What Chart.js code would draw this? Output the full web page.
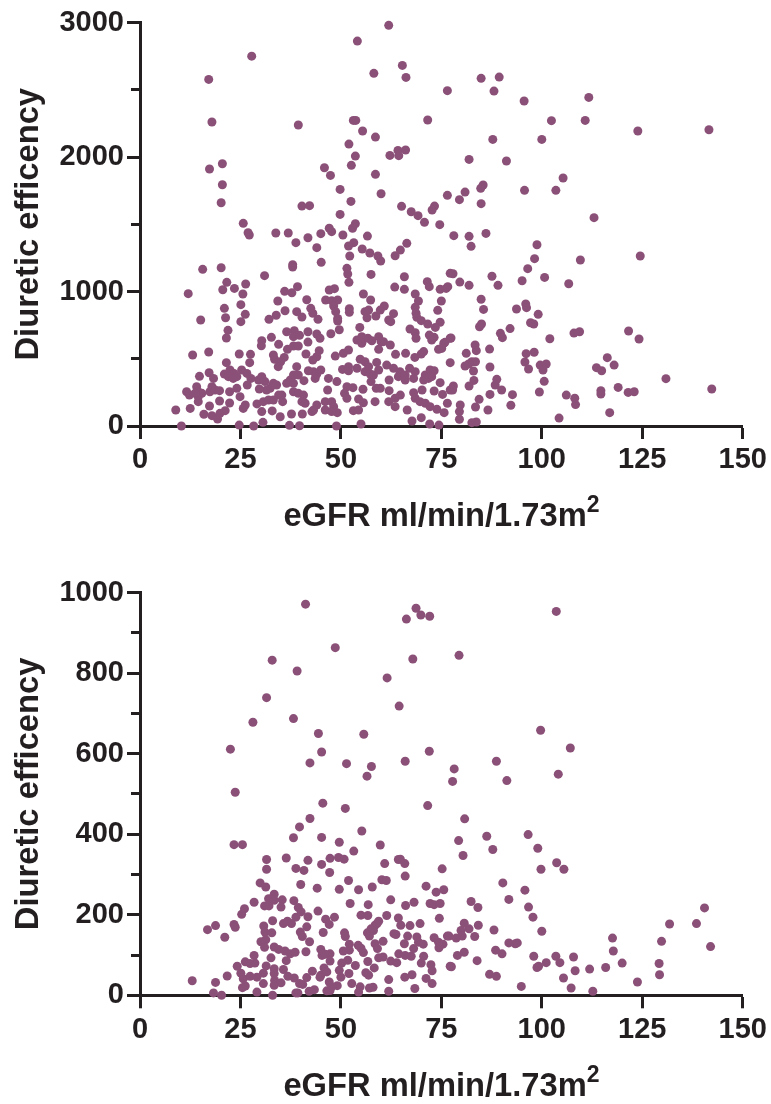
<!DOCTYPE html>
<html><head><meta charset="utf-8">
<script src="https://cdn.jsdelivr.net/npm/chart.js@4"></script>
<style>
html,body{margin:0;padding:0;background:#fff;overflow:hidden}
#wrap{position:relative;width:771px;height:1104px}
canvas{position:absolute;left:0}
#c1{top:0}#c2{top:570px}
.xt{position:absolute;left:140px;width:603px;text-align:center;font:bold 32.7px "Liberation Sans",Arial,sans-serif;color:#231f20;white-space:nowrap;line-height:34px}
.xt sup{font-size:23px;line-height:0;vertical-align:baseline;position:relative;top:-14px}
</style></head><body>
<div id="wrap">
<canvas id="c1" width="771" height="570"></canvas>
<canvas id="c2" width="771" height="534"></canvas>
<div class="xt" style="top:497.5px">eGFR ml/min/1.73m<sup>2</sup></div>
<div class="xt" style="top:1067.5px">eGFR ml/min/1.73m<sup>2</sup></div>
</div>
<script>
const yTitle = 'Diuretic efficency';
const xTicks = [0,25,50,75,100,125,150];
const topPairs = [
[61.9,2979],[54.1,2862],[27.8,2750],[65.3,2681],[58.2,2622],[66.2,2592],[17.1,2577],[76.5,2493],[53.1,2272],[53.7,2272],[71.6,2275],[17.9,2260],[39.4,2238],[55.4,2193],[58.6,2148],[52,2096],[64.2,2049],[66.1,2052],[64.4,2010],[62.2,2012],[53.6,2007],[52.6,1938],[20.5,1950],[17.3,1911],[45.9,1920],[47.4,1863],[58.6,1871],[20.5,1794],[49.8,1759],[60,1727],[76.5,1715],[20.2,1660],[40.3,1635],[42.2,1638],[52.5,1670],[65.1,1633],[73.3,1635],[72.7,1606],[67.5,1593],[69.2,1564],[49.8,1573],[70.8,1514],[74.6,1497],[25.7,1507],[53.6,1504],[52.9,1470],[47.1,1470],
[26.9,1437],[27.2,1420],[33.8,1435],[36.9,1435],[38.8,1363],[41.8,1400],[45,1430],[47.7,1445],[44,1326],[50.5,1420],[56.6,1412],[53.2,1363],[51.9,1338],[55.3,1316],[57.2,1286],[52.2,1264],[59.2,1264],[59.9,1227],[66.4,1358],[64.8,1308],[63.5,1266],[45.1,1217],[38,1199],[38,1182],[51.5,1172],[51.7,1130],[52,1068],[57.5,1127],[15.6,1165],[20.2,1177],[31,1118],[65.8,1110],[77.2,1135],[21.6,1068],[26.3,1056],[20.6,1013],[23.5,1023],[25.6,981],[12,984],[25.1,902],[21,875],[26.2,830],[21.3,805],[25.1,776],[15.1,788],[21.9,711],[21.5,654],[39.2,1036],[36,1001],[37.8,991],[34.3,929],[41.5,939],[36.1,857],[33.9,823],[32.1,793],[39,850],[40.3,810],[42.5,875],[43,838],[44.3,793],[47.1,1011],[48.4,1021],[46.2,937],[47.7,932],[49.2,937],[48.2,892],[48.7,850],[49.2,800],[49.2,781],[52.1,872],[52.1,845],[49.6,716],[47.5,686],[55.6,981],[57.4,937],[56.9,862],[56,850],[56.5,805],[60.8,892],[59.8,862],[58.7,818],[63.1,835],[61.9,788],[62.4,776],[63.4,1033],[65.8,1016],[68.5,981],[69.3,929],[68.5,882],[68.7,838],[68.9,808],[70,783],[71.6,758],[71.5,1073],[72,1036],[74.7,1016],[76.2,1023],[75,929],[74.1,860],[74.7,771],[73.5,733],[67.2,721],[68.5,694],[68.7,652],[72,676],[73.2,659],[72.6,639],[54.7,733],[54,639],[55.2,664],[56.7,652],[57.7,634],[59.4,664],[60,627],[55.2,615],[60.6,627],[62.3,602],[59.4,570],[63.6,533],[66.1,540],[70.6,553],[70,535],[68.4,510],[74.3,570],[75.6,615],[77.2,652],[77.2,471],[48.6,520],[50.6,540],[51.9,565],[36.5,701],[38.4,709],[38.2,664],[39.7,674],[41.8,701],[44,684],[44.8,652],[32.7,659],[30.3,634],[30.2,597],[34.5,607],[41.8,624],[36.7,570],[38.2,595],[39.4,595],[44.6,560],[41.3,535],[43,491],[44,515],[33.2,528],[33.5,496],[35.9,510],[35,478],[34.4,441],[24.7,535],[27.5,533],[27.3,471],[13.1,528],[17.1,550],[21.5,471],
[14.8,369],[17.2,396],[18.3,354],[21,386],[22.4,416],[23.4,391],[22,367],[23.2,354],[24.1,367],[25.3,416],[26.6,391],[27.6,354],[26.7,305],[30.3,367],[29.5,342],[31.1,330],[33.2,317],[32.4,280],[34,305],[31.5,268],[29.7,275],[39,441],[38.2,379],[39.4,379],[37.4,342],[36.5,317],[38.2,317],[40.8,337],[41.9,411],[43.2,404],[45,416],[43.6,354],[44,387],[46.9,354],[49,330],[46.7,268],[50.4,421],[51.9,441],[51.9,411],[54,429],[54.8,496],[56,478],[58.9,473],[56.9,441],[56,404],[57.3,387],[58.1,379],[59.4,416],[57.5,330],[61.4,453],[63.1,429],[64.7,404],[64.3,367],[66,379],[67.1,429],[68.5,404],[68.1,354],[66,342],[71,379],[72.2,416],[73.2,411],[71.8,354],[70.6,342],[72.6,367],[62,342],[59.8,280],[58.8,280],[62,263],[74.7,322],[73.2,260],[75.3,235],[77.2,268],[76.5,169],[51.5,292],[53,285],[55.5,273],[50.9,243],[51.5,206],[54.4,201],[55.6,173],[58.5,181],[61.9,181],[64.8,230],[63.5,206],[63.5,144],[68.1,248],[70.2,268],[68.5,206],[69.7,181],[71,169],[72.2,144],[73.9,124],[75.7,99],[66.5,119],[53.1,114],[54.4,119],[67.7,37],[70,62],[72.1,15],[74.4,7],[55,15],[48.9,0],[8.9,119],[12.5,131],[10.3,0],[11.6,255],[12.3,230],[14.1,292],[14.5,255],[15.4,243],[14.5,218],[13.7,243],[14.5,181],[17.3,149],[15.9,87],[17.9,77],[19.3,52],[19.9,94],[21.2,114],[19.8,186],[22.3,171],[17.9,292],[17.4,255],[18.7,268],[19.8,263],[22.3,255],[24.1,280],[24.9,218],[26.2,156],[25.7,131],[24.7,7],[28.3,0],[30.6,27],[29.1,164],[30.3,107],[32.9,112],[34.9,69],[37.7,89],[40.4,89],[30.7,181],[32,193],[33.2,193],[35.5,181],[35.3,230],[34.5,230],[38.2,255],[39.4,243],[40.7,230],[40.3,181],[41.1,169],[37.2,5],[39.7,2],[42.8,107],[44,156],[43.2,119],[46.1,181],[47.7,181],[46.1,119],[48.2,144],[47.7,107],[49.1,99],
[84.9,2585],[89.4,2594],[88.1,2490],[95.6,2416],[111.7,2443],[102.4,2270],[110.8,2272],[123.9,2193],[141.6,2203],[87.8,2131],[100,2131],[81.9,1982],[91.2,1970],[105.3,1844],[80.9,1739],[79.5,1683],[85.4,1792],[84.8,1767],[84.9,1653],[95.7,1752],[103.5,1752],[113,1549],[78.1,1415],[81.9,1410],[86.1,1432],[82.4,1336],[98.8,1348],[98.2,1244],[96.5,1170],[109.6,1234],[124.5,1264],[77.9,1132],[79.6,1070],[81.9,1046],[76.6,1036],[87.6,1113],[89.1,1046],[95.1,1080],[100.7,1105],[106.7,1058],[84.9,942],[85.5,867],[96,907],[96.2,880],[93.7,870],[99.1,830],[84.5,738],[85,758],[97.2,768],[98,758],[92.1,724],[89.7,689],[90.2,657],[108,691],[109.4,701],[121.6,706],[124.2,647],[102,649],[77.4,654],[75.9,622],[75.1,577],[83.4,602],[83.7,560],[81.2,540],[87,572],[96.1,538],[98.1,548],[95.8,476],[82.6,478],[83.5,478],[81.8,461],[80.9,446],[83,409],[87.1,439],[96.7,424],[99.6,453],[101.1,461],[100.3,416],[116.3,508],[118,453],[113.6,434],[114.9,411],[130.9,352],[142.3,275],[83.1,339],[81.9,297],[78,297],[77.8,268],[88.8,347],[88.4,305],[90,268],[87.1,235],[100.6,332],[99.4,253],[92.7,233],[92.3,154],[84.4,198],[83.5,141],[86.6,119],[79.7,156],[79.5,107],[79.5,50],[82.6,25],[83.7,30],[106.1,230],[108.2,206],[108.4,159],[114.7,263],[114.7,238],[119,287],[121.5,250],[123,255],[104.3,59],[116.9,99]
];
const bottomPairs = [
[41.2,971],[68.7,961],[69.9,944],[72.1,941],[66.3,934],[48.6,863],[67.9,835],[32.9,832],[39.1,805],[61.5,788],[31.5,739],[64.5,718],[28.1,678],[38.2,687],[44.4,650],[55.7,648],[22.5,611],[45.2,604],[72,606],[42.3,577],[51.4,575],[57.6,568],[66,581],[56.5,544],[78.2,562],[77.8,531],[23.7,504],[45.5,477],[71.6,471],[51.1,464],
[42.3,439],[39.7,418],[38.2,391],[45.2,392],[49.6,380],[55.2,408],[23.4,374],[25.5,374],[59.8,373],[53.2,358],[31.5,337],[36.4,341],[41.8,335],[47.3,340],[49.4,342],[50.8,338],[45.2,325],[60.9,327],[64.3,337],[64.8,338],[65.9,327],[31.5,313],[38.8,315],[40.8,310],[47.2,305],[66,296],[75.2,314],[29.9,279],[31.3,269],[40,275],[44.1,266],[49.6,263],[51.9,285],[54.4,262],[57.8,269],[60.2,287],[61.3,285],[71.2,271],[73.7,256],[75.6,262],[33.4,251],[32.8,240],[32,240],[35.4,237],[38.3,235],[28.4,231],[31,222],[32.1,222],[35.1,219],[33.4,236],[62.4,237],[52.3,228],[56.8,225],[66.1,223],[68.2,231],[72.2,228],[73.2,225],[74.7,228],[26,215],[25.3,201],[39.4,218],[40.1,207],[38.8,194],[41.8,195],[44.3,209],[55,199],[56.7,198],[61.4,198],[48.4,194],[46.2,189],[47.1,176],[74.5,191],[16.8,163],[18.8,173],[21.1,144],[23.4,176],[23.7,169],[33,185],[35.7,178],[36.7,184],[37.7,178],[30.8,172],[31.1,157],[32.8,155],[41.5,170],[45.6,156],[59.4,184],[58.5,174],[57.5,165],[56.6,155],[57.1,147],[59,178],[58.1,161],[64.3,192],[64.9,174],[67.2,173],[69.7,178],[63.2,153],[63.7,151],[50.9,155],[51.1,146],[39.9,157],[40.4,146],[42.2,133],[31.3,138],[30.1,133],[31,119],[76.5,147],[73.2,143],[74.3,132],[75.4,127],[74.4,118],[66.6,147],[65.8,128],[68.9,145],[68.1,116],[69.3,132],[70.5,127],[60.5,134],[58.5,128],[59.1,116],[52.1,127],[54.3,124],[55,117],[55.6,106],[33.4,120],[34.5,114],[36.1,110],[37.4,103],[38.6,107],[41.3,108],[50.6,110],[52.1,112],[45,114],[45.3,99],[47.3,103],[46.1,102],[28.4,99],[32.6,93],[26.2,83],[27.4,79],[36.4,86],[24.2,72],[25.1,55],[25.7,41],[26.2,23],[25.5,19],[28.6,80],[31.4,73],[33.4,66],[33.4,54],[33.5,37],[33.4,25],[27.4,47],[29.1,45],[30.7,55],[30.7,29],[35.1,31],[29.1,8],[18.3,6],[20.3,0],[18.8,32],[21.7,48],[13,36],[33,0],[35.7,64],[36.8,47],[38.4,43],[39.7,29],[40.5,27],[41.5,44],[38.8,6],[39.3,6],[42.1,10],[43.4,14],[42.9,60],[45.8,68],[45,50],[46.5,58],[47.3,85],[44.8,45],[47.1,33],[47.3,12],[46.5,11],[49.1,24],[47.7,21],[50.2,80],[51.7,87],[49.6,62],[50,45],[53.6,74],[52,54],[52.7,29],[56.7,84],[58.3,68],[56.2,56],[56.9,50],[54.8,21],[54.4,8],[57.1,18],[58,20],[61.9,10],[61.9,39],[59.4,93],[60.5,95],[62.4,85],[63.9,81],[64.4,103],[66,99],[67.5,97],[70.6,97],[70,80],[65.9,45],[67.7,51],[68.4,17],[71.2,42],[72.7,29],[72.4,76],[72.7,61],[77.2,72],
[103.6,953],[79.4,844],[99.7,658],[107.1,614],[88.7,581],[104.1,549],[91.3,533],[80.8,438],[86.3,395],[96.6,399],[79.3,384],[87.8,362],[99,365],[80.4,347],[103.7,329],[105.5,313],[99.8,313],[90.3,279],[95.8,261],[91.8,238],[82.4,233],[84.1,218],[96.7,219],[97.8,194],[80.7,179],[81.9,165],[79.9,161],[80.2,147],[84.2,174],[88.1,162],[100,159],[76.9,147],[78.7,142],[83.3,146],[91.8,130],[93.4,128],[93.9,130],[80.7,107],[79,99],[88.5,112],[90.1,103],[83.9,86],[77.5,71],[87,52],[88.7,47],[94.9,22],[98,97],[99.2,72],[98.8,69],[101.1,81],[103.5,97],[104.5,81],[107.9,95],[105.4,43],[107.3,18],[108.3,61],[111.9,65],[115.9,69],[112.7,10],[117.6,142],[117.8,110],[120,80],[123.8,33],[129.2,79],[129.3,51],[129.8,134],[131.8,177],[138.5,178],[140.5,217],[142,121]
];
const INK = '#231f20', DOT = '#8b5078';

function makeChart(id, pairs, yMax, yStep, yMajor, padTop, plotH) {
  const cv = document.getElementById(id);
  new Chart(cv, {
    type: 'scatter',
    data: { datasets: [{ data: pairs.map(p => ({x: p[0], y: p[1]})), backgroundColor: DOT, borderWidth: 0, pointRadius: 4.5, clip: false }] },
    options: {
      responsive: false, animation: false,
      layout: { padding: { top: padTop, right: 771 - 742.7, left: 0, bottom: 0 } },
      plugins: { legend: { display: false }, tooltip: { enabled: false } },
      scales: {
        x: {
          type: 'linear', min: 0, max: 150,
          afterBuildTicks: s => { s.ticks = xTicks.map(v => ({value: v})); },
          afterFit: s => { s.height = cv.height - padTop - plotH; },
          border: { color: INK, width: 3 },
          grid: { drawOnChartArea: false, tickLength: 13, tickWidth: 3, tickColor: INK, color: INK },
          ticks: { padding: 4, color: INK, maxRotation: 0, autoSkip: false, font: { family: '"Liberation Sans"', size: 29, weight: 'bold' } }
        },
        y: {
          type: 'linear', min: 0, max: yMax,
          afterFit: s => { s.width = 140; },
          border: { color: INK, width: 3 },
          grid: { drawOnChartArea: false, tickLength: 13, tickWidth: 3, tickColor: INK, color: INK,
            tickBorderDash: c => (c.tick && c.tick.value % yMajor) ? [0, 4, 9, 100] : [] },
          title: { display: true, text: yTitle, color: INK, padding: { top: 9, bottom: 0 }, font: { family: '"Liberation Sans"', size: 32.7, weight: 'bold' } },
          ticks: { stepSize: yStep, padding: 3, color: INK, autoSkip: false, font: { family: '"Liberation Sans"', size: 29, weight: 'bold' },
            callback: v => (v % yMajor) ? '' : String(v) }
        }
      }
    }
  });
}
makeChart('c1', topPairs, 3000, 500, 1000, 22.5, 403.5);
makeChart('c2', bottomPairs, 1000, 100, 200, 22.5, 402.8);
</script>
</body></html>
